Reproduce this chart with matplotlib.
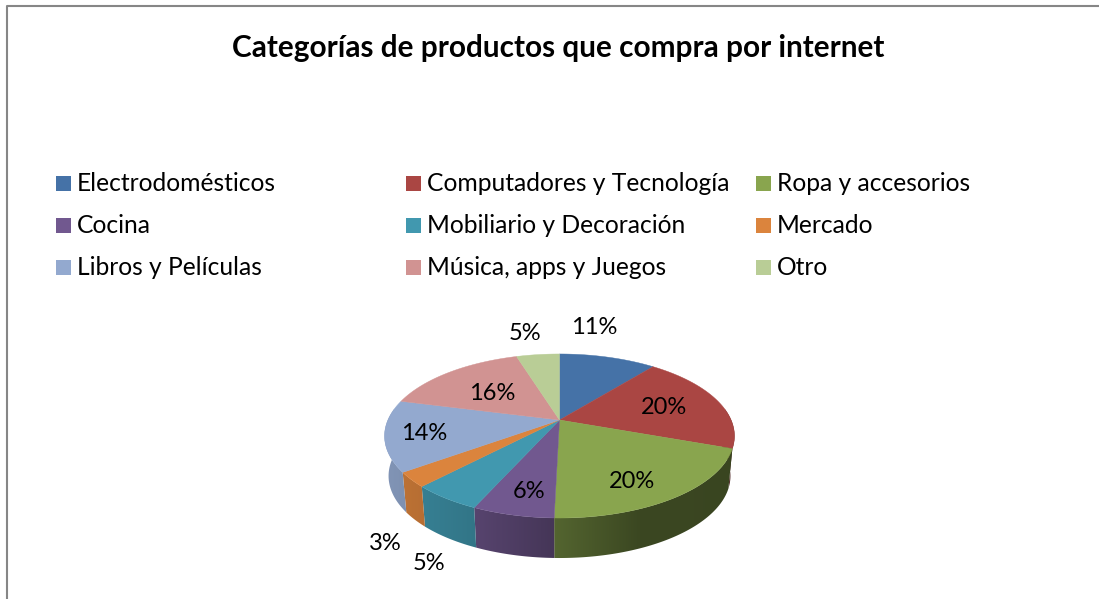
import numpy as np
import matplotlib
matplotlib.use('Agg')
import matplotlib.pyplot as plt
from matplotlib.patches import Rectangle, Polygon

plt.rcParams['font.family'] = ['Lato', 'DejaVu Sans']

title = 'Categorías de productos que compra por internet'
categories = ['Electrodomésticos', 'Computadores y Tecnología', 'Ropa y accesorios',
              'Cocina', 'Mobiliario y Decoración', 'Mercado',
              'Libros y Películas', 'Música, apps y Juegos', 'Otro']
# shares, they round to the printed labels
values = [10.8, 19.7, 19.9, 6.3, 5.4, 2.9, 14.0, 16.2, 4.8]
colors = ['#4572a7', '#aa4643', '#89a54e', '#71588f', '#4198af', '#db843d',
          '#93a9cf', '#d19392', '#b9cd96']

# where the percentage labels sit, in pixels
label_x = [594, 664, 632, 529, 429, 385, 424, 492, 525]
label_y = [328, 408, 482, 492, 564, 544, 434, 393, 333]

# pie geometry: the disc is tilted, so the apex is above the ellipse centre
apex_x, apex_y = 559.5, 420
scale_x, scale_y = 171.6, 78.9
persp = 0.195
depth = 40
bottom_narrow = 0.977


def project(theta):
    # theta is clockwise from 12 o'clock
    den = 1 + persp * np.cos(theta)
    return apex_x + scale_x * np.sin(theta) / den, apex_y - scale_y * np.cos(theta) / den


def wall_shade(x):
    return np.interp(x, [385, 470, 560, 640, 735], [0.88, 0.78, 0.60, 0.43, 0.42])


fig = plt.figure(figsize=(10.99, 5.99), dpi=100)
ax = fig.add_axes([0, 0, 1, 1])
ax.axis('off')

# frame of the chart
ax.plot([6.7, 6.7, 1099], [599, 5.7, 5.7], color='#868686', lw=1.5)

ax.text(558, 48, title, fontsize=21.4, fontweight='bold', ha='center', va='center', color='black')

# legend
for i, name in enumerate(categories):
    col = i % 3
    row = i // 3
    x0 = [56, 406, 756][col]
    y0 = 183 + 42 * row
    ax.add_patch(Rectangle((x0, y0 - 7.5), 15, 15, facecolor=colors[i], edgecolor='none'))
    ax.text(x0 + 21, y0 + 0.5, name, fontsize=17.7, ha='left', va='center', color='black')

edges = np.radians(np.concatenate([[0], np.cumsum(values)]) * 3.6)

# side wall, a horizontal gradient clipped to each slice's rim
for i in range(len(values)):
    th = np.linspace(edges[i], edges[i + 1], 80)
    th = th[np.cos(th) < 0.15]
    if len(th) < 2:
        continue
    xs, ys = project(th)
    low_x = apex_x + (xs - apex_x) * bottom_narrow
    low_y = ys + depth
    poly = Polygon(np.c_[np.r_[xs, low_x[::-1]], np.r_[ys, low_y[::-1]]],
                   closed=True, facecolor='none', edgecolor='none', transform=ax.transData)
    ax.add_patch(poly)
    grad_x = np.arange(xs.min() - 3, xs.max() + 4)
    base = np.array(matplotlib.colors.to_rgb(colors[i]))
    rgb = wall_shade(grad_x)[None, :, None] * base[None, None, :]
    im = ax.imshow(rgb, extent=(grad_x[0], grad_x[-1], low_y.max() + 3, ys.min() - 3),
                   aspect='auto', interpolation='bilinear', zorder=2)
    im.set_clip_path(poly)

# top of the pie
for i in range(len(values)):
    th = np.linspace(edges[i], edges[i + 1], 80)
    xs, ys = project(th)
    ax.fill(np.r_[apex_x, xs], np.r_[apex_y, ys], color=colors[i], lw=0.3, zorder=3)

for i, v in enumerate(values):
    ax.text(label_x[i], label_y[i], '%.0f%%' % v, fontsize=17, ha='center', va='center',
            color='black', zorder=4)

ax.set_xlim(0, 1099)
ax.set_ylim(599, 0)

fig.savefig('out.png', dpi=100)
